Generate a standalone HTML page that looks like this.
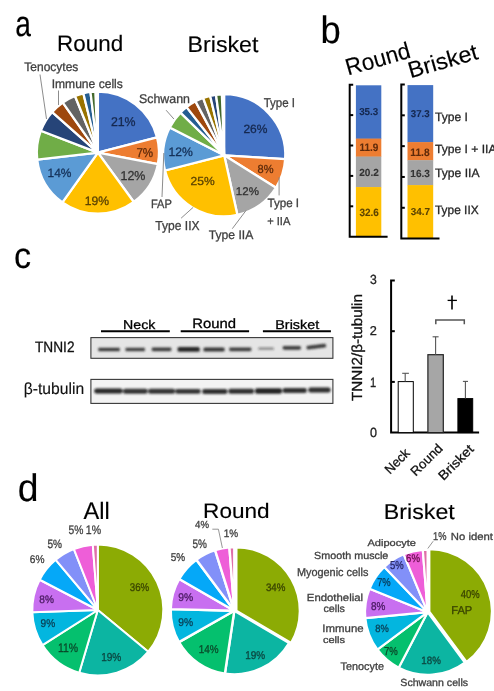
<!DOCTYPE html>
<html><head><meta charset="utf-8"><style>
html,body{margin:0;padding:0;background:#fff;}
svg{display:block;}
text{font-family:"Liberation Sans",sans-serif;text-rendering:geometricPrecision;}
</style></head><body>
<svg width="494" height="691" viewBox="0 0 494 691">
<rect width="494" height="691" fill="#fff"/>
<g style="will-change:transform">
<text x="15.20" y="35.80" font-size="36.28" textLength="15.66" lengthAdjust="spacingAndGlyphs" fill="#000" font-weight="normal" stroke="#000" stroke-width="0.15">a</text>
<text x="320.53" y="42.80" font-size="38.34" textLength="20.27" lengthAdjust="spacingAndGlyphs" fill="#000" font-weight="normal" stroke="#000" stroke-width="0.15">b</text>
<text x="14.05" y="267.90" font-size="36.47" textLength="17.09" lengthAdjust="spacingAndGlyphs" fill="#000" font-weight="normal" stroke="#000" stroke-width="0.15">c</text>
<text x="17.71" y="500.60" font-size="38.48" textLength="20.76" lengthAdjust="spacingAndGlyphs" fill="#000" font-weight="normal" stroke="#000" stroke-width="0.15">d</text>
<text x="57.05" y="50.60" font-size="22.25" textLength="66.09" lengthAdjust="spacingAndGlyphs" fill="#000" font-weight="normal" stroke="#000" stroke-width="0.15">Round</text>
<text x="187.59" y="51.90" font-size="22.40" textLength="70.81" lengthAdjust="spacingAndGlyphs" fill="#000" font-weight="normal" stroke="#000" stroke-width="0.15">Brisket</text>
<path d="M97.90,152.60 L97.90,91.50 A61.10,61.10 0 0 1 157.08,137.41 Z" fill="#4472C4" stroke="#fff" stroke-width="2.3" stroke-linejoin="round"/>
<path d="M97.90,152.60 L157.08,137.41 A61.10,61.10 0 0 1 157.92,164.05 Z" fill="#ED7D31" stroke="#fff" stroke-width="2.3" stroke-linejoin="round"/>
<path d="M97.90,152.60 L157.92,164.05 A61.10,61.10 0 0 1 133.81,202.03 Z" fill="#A5A5A5" stroke="#fff" stroke-width="2.3" stroke-linejoin="round"/>
<path d="M97.90,152.60 L133.81,202.03 A61.10,61.10 0 0 1 62.42,202.34 Z" fill="#FFC000" stroke="#fff" stroke-width="2.3" stroke-linejoin="round"/>
<path d="M97.90,152.60 L62.42,202.34 A61.10,61.10 0 0 1 37.19,159.52 Z" fill="#5B9BD5" stroke="#fff" stroke-width="2.3" stroke-linejoin="round"/>
<path d="M97.90,152.60 L37.19,159.52 A61.10,61.10 0 0 1 40.86,130.70 Z" fill="#70AD47" stroke="#fff" stroke-width="2.3" stroke-linejoin="round"/>
<path d="M97.90,152.60 L40.86,130.70 A61.10,61.10 0 0 1 52.21,112.03 Z" fill="#264478" stroke="#fff" stroke-width="2.3" stroke-linejoin="round"/>
<path d="M97.90,152.60 L52.21,112.03 A61.10,61.10 0 0 1 62.85,102.55 Z" fill="#9E480E" stroke="#fff" stroke-width="2.3" stroke-linejoin="round"/>
<path d="M97.90,152.60 L62.85,102.55 A61.10,61.10 0 0 1 75.01,95.95 Z" fill="#636363" stroke="#fff" stroke-width="2.3" stroke-linejoin="round"/>
<path d="M97.90,152.60 L75.01,95.95 A61.10,61.10 0 0 1 83.33,93.26 Z" fill="#997300" stroke="#fff" stroke-width="2.3" stroke-linejoin="round"/>
<path d="M97.90,152.60 L83.33,93.26 A61.10,61.10 0 0 1 90.45,91.96 Z" fill="#255E91" stroke="#fff" stroke-width="2.3" stroke-linejoin="round"/>
<path d="M97.90,152.60 L90.45,91.96 A61.10,61.10 0 0 1 95.34,91.55 Z" fill="#43682B" stroke="#fff" stroke-width="2.3" stroke-linejoin="round"/>
<path d="M224.20,155.30 L224.20,94.20 A61.10,61.10 0 0 1 285.18,159.14 Z" fill="#4472C4" stroke="#fff" stroke-width="2.3" stroke-linejoin="round"/>
<path d="M224.20,155.30 L285.18,159.14 A61.10,61.10 0 0 1 276.02,187.68 Z" fill="#ED7D31" stroke="#fff" stroke-width="2.3" stroke-linejoin="round"/>
<path d="M224.20,155.30 L276.02,187.68 A61.10,61.10 0 0 1 237.42,214.95 Z" fill="#A5A5A5" stroke="#fff" stroke-width="2.3" stroke-linejoin="round"/>
<path d="M224.20,155.30 L237.42,214.95 A61.10,61.10 0 0 1 165.02,170.49 Z" fill="#FFC000" stroke="#fff" stroke-width="2.3" stroke-linejoin="round"/>
<path d="M224.20,155.30 L165.02,170.49 A61.10,61.10 0 0 1 169.76,127.56 Z" fill="#5B9BD5" stroke="#fff" stroke-width="2.3" stroke-linejoin="round"/>
<path d="M224.20,155.30 L169.76,127.56 A61.10,61.10 0 0 1 180.47,112.63 Z" fill="#70AD47" stroke="#fff" stroke-width="2.3" stroke-linejoin="round"/>
<path d="M224.20,155.30 L180.47,112.63 A61.10,61.10 0 0 1 186.58,107.15 Z" fill="#255E91" stroke="#fff" stroke-width="2.3" stroke-linejoin="round"/>
<path d="M224.20,155.30 L186.58,107.15 A61.10,61.10 0 0 1 195.52,101.35 Z" fill="#9E480E" stroke="#fff" stroke-width="2.3" stroke-linejoin="round"/>
<path d="M224.20,155.30 L195.52,101.35 A61.10,61.10 0 0 1 203.10,97.96 Z" fill="#636363" stroke="#fff" stroke-width="2.3" stroke-linejoin="round"/>
<path d="M224.20,155.30 L203.10,97.96 A61.10,61.10 0 0 1 210.14,95.84 Z" fill="#997300" stroke="#fff" stroke-width="2.3" stroke-linejoin="round"/>
<path d="M224.20,155.30 L210.14,95.84 A61.10,61.10 0 0 1 216.01,94.75 Z" fill="#264478" stroke="#fff" stroke-width="2.3" stroke-linejoin="round"/>
<path d="M224.20,155.30 L216.01,94.75 A61.10,61.10 0 0 1 221.85,94.25 Z" fill="#43682B" stroke="#fff" stroke-width="2.3" stroke-linejoin="round"/>
<line x1="40" y1="74.5" x2="46.5" y2="119" stroke="#7f7f7f" stroke-width="0.9"/>
<line x1="58.5" y1="90.5" x2="58.5" y2="105" stroke="#7f7f7f" stroke-width="0.9"/>
<line x1="166.1" y1="110.2" x2="173.9" y2="119" stroke="#7f7f7f" stroke-width="0.9"/>
<line x1="163.8" y1="153" x2="162" y2="197" stroke="#7f7f7f" stroke-width="0.9"/>
<line x1="181.1" y1="218.2" x2="193.2" y2="207.3" stroke="#7f7f7f" stroke-width="0.9"/>
<line x1="232.3" y1="228.7" x2="246" y2="210.5" stroke="#7f7f7f" stroke-width="0.9"/>
<line x1="279.1" y1="177.2" x2="279.1" y2="195.4" stroke="#7f7f7f" stroke-width="0.9"/>
<text x="24.33" y="71.40" font-size="12.44" textLength="53.99" lengthAdjust="spacingAndGlyphs" fill="#404040" font-weight="normal" stroke="#404040" stroke-width="0.3">Tenocytes</text>
<text x="51.68" y="87.80" font-size="12.44" textLength="71.15" lengthAdjust="spacingAndGlyphs" fill="#404040" font-weight="normal" stroke="#404040" stroke-width="0.3">Immune cells</text>
<text x="139.04" y="102.70" font-size="12.69" textLength="50.95" lengthAdjust="spacingAndGlyphs" fill="#404040" font-weight="normal" stroke="#404040" stroke-width="0.3">Schwann</text>
<text x="263.64" y="106.60" font-size="12.73" textLength="31.44" lengthAdjust="spacingAndGlyphs" fill="#404040" font-weight="normal" stroke="#404040" stroke-width="0.3">Type I</text>
<text x="150.89" y="207.90" font-size="12.29" textLength="20.89" lengthAdjust="spacingAndGlyphs" fill="#404040" font-weight="normal" stroke="#404040" stroke-width="0.3">FAP</text>
<text x="155.33" y="229.60" font-size="13.02" textLength="44.23" lengthAdjust="spacingAndGlyphs" fill="#404040" font-weight="normal" stroke="#404040" stroke-width="0.3">Type IIX</text>
<text x="208.73" y="238.70" font-size="12.44" textLength="44.59" lengthAdjust="spacingAndGlyphs" fill="#404040" font-weight="normal" stroke="#404040" stroke-width="0.3">Type IIA</text>
<text x="267.44" y="207.40" font-size="12.00" textLength="31.65" lengthAdjust="spacingAndGlyphs" fill="#404040" font-weight="normal" stroke="#404040" stroke-width="0.3">Type I</text>
<text x="267.17" y="224.80" font-size="11.56" textLength="23.25" lengthAdjust="spacingAndGlyphs" fill="#404040" font-weight="normal" stroke="#404040" stroke-width="0.3">+ IIA</text>
<text x="110.88" y="125.60" font-size="12.69" textLength="24.74" lengthAdjust="spacingAndGlyphs" fill="#15284F" font-weight="normal" stroke="#15284F" stroke-width="0.3">21%</text>
<text x="136.42" y="157.20" font-size="12.87" textLength="16.79" lengthAdjust="spacingAndGlyphs" fill="#5E2A0A" font-weight="normal" stroke="#5E2A0A" stroke-width="0.3">7%</text>
<text x="120.46" y="180.40" font-size="12.87" textLength="24.96" lengthAdjust="spacingAndGlyphs" fill="#333333" font-weight="normal" stroke="#333333" stroke-width="0.3">12%</text>
<text x="84.79" y="204.70" font-size="12.29" textLength="24.32" lengthAdjust="spacingAndGlyphs" fill="#5C4300" font-weight="normal" stroke="#5C4300" stroke-width="0.3">19%</text>
<text x="47.60" y="177.40" font-size="12.15" textLength="23.90" lengthAdjust="spacingAndGlyphs" fill="#15325A" font-weight="normal" stroke="#15325A" stroke-width="0.3">14%</text>
<text x="243.40" y="132.60" font-size="11.97" textLength="24.01" lengthAdjust="spacingAndGlyphs" fill="#15284F" font-weight="normal" stroke="#15284F" stroke-width="0.3">26%</text>
<text x="257.53" y="173.20" font-size="11.68" textLength="15.96" lengthAdjust="spacingAndGlyphs" fill="#5E2A0A" font-weight="normal" stroke="#5E2A0A" stroke-width="0.3">8%</text>
<text x="235.84" y="194.50" font-size="11.13" textLength="23.06" lengthAdjust="spacingAndGlyphs" fill="#333333" font-weight="normal" stroke="#333333" stroke-width="0.3">12%</text>
<text x="190.60" y="185.30" font-size="11.68" textLength="24.11" lengthAdjust="spacingAndGlyphs" fill="#5C4300" font-weight="normal" stroke="#5C4300" stroke-width="0.3">25%</text>
<text x="168.49" y="155.70" font-size="12.29" textLength="24.32" lengthAdjust="spacingAndGlyphs" fill="#15325A" font-weight="normal" stroke="#15325A" stroke-width="0.3">12%</text>
<text x="347.94" y="75.10" font-size="23.27" textLength="66.30" lengthAdjust="spacingAndGlyphs" fill="#000" font-weight="normal" stroke="#000" stroke-width="0.15" transform="rotate(-16 349.8 75.1)">Round</text>
<text x="410.37" y="77.80" font-size="22.69" textLength="71.64" lengthAdjust="spacingAndGlyphs" fill="#000" font-weight="normal" stroke="#000" stroke-width="0.15" transform="rotate(-16 412.3 77.8)">Brisket</text>
<rect x="355.90" y="85.30" width="25.40" height="53.60" fill="#4472C4" stroke="none" stroke-width="0"/>
<rect x="355.90" y="138.60" width="25.40" height="18.27" fill="#ED7D31" stroke="none" stroke-width="0"/>
<rect x="355.90" y="156.57" width="25.40" height="30.80" fill="#A5A5A5" stroke="none" stroke-width="0"/>
<rect x="355.90" y="187.07" width="25.40" height="49.53" fill="#FFC000" stroke="none" stroke-width="0"/>
<rect x="407.50" y="85.10" width="25.70" height="57.33" fill="#4472C4" stroke="none" stroke-width="0"/>
<rect x="407.50" y="142.13" width="25.70" height="18.34" fill="#ED7D31" stroke="none" stroke-width="0"/>
<rect x="407.50" y="160.17" width="25.70" height="25.22" fill="#A5A5A5" stroke="none" stroke-width="0"/>
<rect x="407.50" y="185.10" width="25.70" height="53.20" fill="#FFC000" stroke="none" stroke-width="0"/>
<path d="M353.2,84.7 H349.7 V236.7 H387.6" fill="none" stroke="#000" stroke-width="2"/>
<line x1="349.7" y1="115.10" x2="353.2" y2="115.10" stroke="#000" stroke-width="2"/>
<line x1="349.7" y1="145.50" x2="353.2" y2="145.50" stroke="#000" stroke-width="2"/>
<line x1="349.7" y1="175.90" x2="353.2" y2="175.90" stroke="#000" stroke-width="2"/>
<line x1="349.7" y1="206.30" x2="353.2" y2="206.30" stroke="#000" stroke-width="2"/>
<path d="M404.8,84.5 H401.3 V238.6 H439.5" fill="none" stroke="#000" stroke-width="2"/>
<line x1="401.3" y1="115.32" x2="404.8" y2="115.32" stroke="#000" stroke-width="2"/>
<line x1="401.3" y1="146.14" x2="404.8" y2="146.14" stroke="#000" stroke-width="2"/>
<line x1="401.3" y1="176.96" x2="404.8" y2="176.96" stroke="#000" stroke-width="2"/>
<line x1="401.3" y1="207.78" x2="404.8" y2="207.78" stroke="#000" stroke-width="2"/>
<text x="359.18" y="115.30" font-size="10.11" textLength="19.08" lengthAdjust="spacingAndGlyphs" fill="#15284F" font-weight="bold" stroke="#15284F" stroke-width="0.1">35.3</text>
<text x="359.38" y="151.10" font-size="10.84" textLength="18.89" lengthAdjust="spacingAndGlyphs" fill="#5E2A0A" font-weight="bold" stroke="#5E2A0A" stroke-width="0.1">11.9</text>
<text x="359.25" y="176.00" font-size="10.25" textLength="19.54" lengthAdjust="spacingAndGlyphs" fill="#333333" font-weight="bold" stroke="#333333" stroke-width="0.1">20.2</text>
<text x="359.38" y="216.20" font-size="10.54" textLength="19.39" lengthAdjust="spacingAndGlyphs" fill="#5C4300" font-weight="bold" stroke="#5C4300" stroke-width="0.1">32.6</text>
<text x="410.78" y="116.80" font-size="9.96" textLength="18.87" lengthAdjust="spacingAndGlyphs" fill="#15284F" font-weight="bold" stroke="#15284F" stroke-width="0.1">37.3</text>
<text x="410.36" y="155.50" font-size="10.84" textLength="19.25" lengthAdjust="spacingAndGlyphs" fill="#5E2A0A" font-weight="bold" stroke="#5E2A0A" stroke-width="0.1">11.8</text>
<text x="410.37" y="176.70" font-size="10.25" textLength="19.60" lengthAdjust="spacingAndGlyphs" fill="#333333" font-weight="bold" stroke="#333333" stroke-width="0.1">16.3</text>
<text x="410.78" y="215.00" font-size="10.11" textLength="19.26" lengthAdjust="spacingAndGlyphs" fill="#5C4300" font-weight="bold" stroke="#5C4300" stroke-width="0.1">34.7</text>
<text x="435.03" y="121.30" font-size="12.15" textLength="32.90" lengthAdjust="spacingAndGlyphs" fill="#262626" font-weight="normal" stroke="#262626" stroke-width="0.3">Type I</text>
<text x="435.03" y="153.30" font-size="11.85" textLength="61.49" lengthAdjust="spacingAndGlyphs" fill="#262626" font-weight="normal" stroke="#262626" stroke-width="0.3">Type I + IIA</text>
<text x="435.03" y="177.10" font-size="12.15" textLength="44.49" lengthAdjust="spacingAndGlyphs" fill="#262626" font-weight="normal" stroke="#262626" stroke-width="0.3">Type IIA</text>
<text x="435.03" y="213.50" font-size="12.15" textLength="43.62" lengthAdjust="spacingAndGlyphs" fill="#262626" font-weight="normal" stroke="#262626" stroke-width="0.3">Type IIX</text>
<text x="123.13" y="328.50" font-size="12.73" textLength="32.28" lengthAdjust="spacingAndGlyphs" fill="#000" font-weight="normal" stroke="#000" stroke-width="0.3">Neck</text>
<text x="192.17" y="328.40" font-size="13.45" textLength="43.78" lengthAdjust="spacingAndGlyphs" fill="#000" font-weight="normal" stroke="#000" stroke-width="0.3">Round</text>
<text x="275.32" y="329.10" font-size="12.87" textLength="43.81" lengthAdjust="spacingAndGlyphs" fill="#000" font-weight="normal" stroke="#000" stroke-width="0.3">Brisket</text>
<line x1="101" y1="331.2" x2="169.8" y2="331.2" stroke="#000" stroke-width="2"/>
<line x1="180.7" y1="331.2" x2="249.1" y2="331.2" stroke="#000" stroke-width="2"/>
<line x1="262.9" y1="331.2" x2="330.9" y2="331.2" stroke="#000" stroke-width="2"/>
<text x="34.99" y="352.30" font-size="15.05" textLength="39.52" lengthAdjust="spacingAndGlyphs" fill="#111" font-weight="normal" stroke="#111" stroke-width="0.3">TNNI2</text>
<text x="23.80" y="394.00" font-size="16.21" textLength="60.38" lengthAdjust="spacingAndGlyphs" fill="#111" font-weight="normal" stroke="#111" stroke-width="0.15">β-tubulin</text>
<defs><filter id="bl" x="-20%" y="-150%" width="140%" height="400%"><feGaussianBlur stdDeviation="1.2 0.9"/></filter><filter id="bl2" x="-20%" y="-150%" width="140%" height="400%"><feGaussianBlur stdDeviation="1.3 1.2"/></filter></defs>
<rect x="90.9" y="337.6" width="242.0" height="20.7" fill="#e5e5e5" stroke="#383838" stroke-width="1.1"/>
<rect x="90.9" y="379.4" width="242.0" height="24.0" fill="#f3f3f3" stroke="#383838" stroke-width="1.1"/>
<g filter="url(#bl)">
<rect x="98.20" y="347.75" width="21.70" height="3.50" rx="1.35" fill="#262626" opacity="0.88"/>
<rect x="125.40" y="347.85" width="19.60" height="3.30" rx="1.27" fill="#262626" opacity="0.85"/>
<rect x="151.70" y="347.45" width="19.70" height="3.70" rx="1.42" fill="#262626" opacity="0.88"/>
<rect x="177.50" y="347.00" width="22.30" height="4.80" rx="1.85" fill="#262626" opacity="1.0"/>
<rect x="203.40" y="347.55" width="21.30" height="3.90" rx="1.50" fill="#262626" opacity="0.92"/>
<rect x="229.20" y="347.45" width="22.20" height="3.70" rx="1.42" fill="#262626" opacity="0.88"/>
<rect x="258.30" y="347.60" width="15.60" height="2.20" rx="0.85" fill="#262626" opacity="0.5"/>
<rect x="282.70" y="346.10" width="18.20" height="3.60" rx="1.38" fill="#262626" opacity="0.88"/>
<path d="M308.2,347.6 L324.4,345.6" stroke="#262626" stroke-width="3.6" stroke-linecap="round" fill="none" opacity="0.88"/>
</g>
<g filter="url(#bl2)">
<rect x="94.30" y="388.40" width="28.30" height="5.20" rx="2.08" fill="#1c1c1c" opacity="0.95"/>
<rect x="123.10" y="388.70" width="24.50" height="5.00" rx="2.00" fill="#1c1c1c" opacity="0.9"/>
<rect x="148.20" y="388.70" width="26.80" height="5.00" rx="2.00" fill="#1c1c1c" opacity="0.9"/>
<rect x="175.30" y="388.90" width="25.30" height="4.80" rx="1.92" fill="#1c1c1c" opacity="0.9"/>
<rect x="202.20" y="388.90" width="25.20" height="5.00" rx="2.00" fill="#1c1c1c" opacity="0.92"/>
<rect x="228.40" y="388.70" width="25.60" height="5.00" rx="2.00" fill="#1c1c1c" opacity="0.92"/>
<rect x="255.00" y="388.20" width="27.00" height="5.60" rx="2.24" fill="#1c1c1c" opacity="0.97"/>
<rect x="282.60" y="388.10" width="24.20" height="5.00" rx="2.00" fill="#1c1c1c" opacity="0.92"/>
<rect x="308.40" y="387.60" width="22.10" height="5.00" rx="2.00" fill="#1c1c1c" opacity="0.92"/>
</g>
<path d="M394.8,280.4 H391.1 V432.6 H479.1" fill="none" stroke="#000" stroke-width="2"/>
<line x1="391.1" y1="331.2" x2="394.8" y2="331.2" stroke="#000" stroke-width="2"/>
<line x1="391.1" y1="381.9" x2="394.8" y2="381.9" stroke="#000" stroke-width="2"/>
<text x="369.94" y="284.40" font-size="13.26" textLength="6.79" lengthAdjust="spacingAndGlyphs" fill="#222" font-weight="normal" stroke="#222" stroke-width="0.3">3</text>
<text x="369.76" y="335.10" font-size="12.83" textLength="7.09" lengthAdjust="spacingAndGlyphs" fill="#222" font-weight="normal" stroke="#222" stroke-width="0.3">2</text>
<text x="369.97" y="386.50" font-size="13.45" textLength="6.17" lengthAdjust="spacingAndGlyphs" fill="#222" font-weight="normal" stroke="#222" stroke-width="0.3">1</text>
<text x="369.90" y="436.50" font-size="13.26" textLength="6.99" lengthAdjust="spacingAndGlyphs" fill="#222" font-weight="normal" stroke="#222" stroke-width="0.3">0</text>
<rect x="398.2" y="381.6" width="15.1" height="51" fill="#fff" stroke="#000" stroke-width="1"/>
<rect x="427.9" y="354.7" width="15.4" height="77.9" fill="#a6a6a6" stroke="#222" stroke-width="1.2"/>
<rect x="457.9" y="398.6" width="14.8" height="34" fill="#000" stroke="#000" stroke-width="1"/>
<line x1="405.2" y1="381.6" x2="405.2" y2="373.3" stroke="#555" stroke-width="1.1"/>
<line x1="402.2" y1="373.3" x2="408.9" y2="373.3" stroke="#555" stroke-width="1.1"/>
<line x1="435.6" y1="354.7" x2="435.6" y2="336.8" stroke="#555" stroke-width="1.1"/>
<line x1="432.6" y1="336.8" x2="438.6" y2="336.8" stroke="#555" stroke-width="1.1"/>
<line x1="465.4" y1="398.6" x2="465.4" y2="381.4" stroke="#555" stroke-width="1.1"/>
<line x1="462.9" y1="381.4" x2="468" y2="381.4" stroke="#555" stroke-width="1.1"/>
<path d="M435.8,324.3 V320 H464.3 V324.3" fill="none" stroke="#555" stroke-width="1.5"/>
<path d="M452,295.6 L452,309.5" stroke="#000" stroke-width="1.6"/><path d="M447.6,300.4 H456.9" stroke="#000" stroke-width="1.3"/>
<text x="361.96" y="400.70" font-size="14.62" textLength="107.03" lengthAdjust="spacingAndGlyphs" fill="#111" font-weight="normal" stroke="#111" stroke-width="0.3" transform="rotate(-90 362.3 400.7)">TNNI2/β-tubulin</text>
<text x="389.75" y="473.90" font-size="13.09" textLength="29.06" lengthAdjust="spacingAndGlyphs" fill="#111" font-weight="normal" stroke="#111" stroke-width="0.3" transform="rotate(-45 390.8010101267767 473.89898987322334)">Neck</text>
<text x="415.55" y="475.96" font-size="13.09" textLength="38.94" lengthAdjust="spacingAndGlyphs" fill="#111" font-weight="normal" stroke="#111" stroke-width="0.3" transform="rotate(-45 416.63704909609777 475.96295090390225)">Round</text>
<text x="443.17" y="480.15" font-size="13.09" textLength="43.81" lengthAdjust="spacingAndGlyphs" fill="#111" font-weight="normal" stroke="#111" stroke-width="0.3" transform="rotate(-45 444.3479617995717 480.1520382004283)">Brisket</text>
<text x="83.54" y="519.30" font-size="23.85" textLength="26.23" lengthAdjust="spacingAndGlyphs" fill="#000" font-weight="normal" stroke="#000" stroke-width="0.15">All</text>
<text x="203.14" y="517.70" font-size="20.80" textLength="66.52" lengthAdjust="spacingAndGlyphs" fill="#000" font-weight="normal" stroke="#000" stroke-width="0.15">Round</text>
<text x="383.89" y="518.90" font-size="21.53" textLength="70.92" lengthAdjust="spacingAndGlyphs" fill="#000" font-weight="normal" stroke="#000" stroke-width="0.15">Brisket</text>
<path d="M97.80,610.00 L97.80,544.50 A65.50,65.50 0 0 1 148.27,651.75 Z" fill="#8CAB04" stroke="#fff" stroke-width="2.0" stroke-linejoin="round"/>
<path d="M97.80,610.00 L148.27,651.75 A65.50,65.50 0 0 1 79.20,672.80 Z" fill="#0CB5A2" stroke="#fff" stroke-width="2.0" stroke-linejoin="round"/>
<path d="M97.80,610.00 L79.20,672.80 A65.50,65.50 0 0 1 42.50,645.10 Z" fill="#05C06E" stroke="#fff" stroke-width="2.0" stroke-linejoin="round"/>
<path d="M97.80,610.00 L42.50,645.10 A65.50,65.50 0 0 1 32.34,612.29 Z" fill="#03B6DF" stroke="#fff" stroke-width="2.0" stroke-linejoin="round"/>
<path d="M97.80,610.00 L32.34,612.29 A65.50,65.50 0 0 1 39.70,579.76 Z" fill="#C86FF0" stroke="#fff" stroke-width="2.0" stroke-linejoin="round"/>
<path d="M97.80,610.00 L39.70,579.76 A65.50,65.50 0 0 1 55.70,559.82 Z" fill="#05A8F8" stroke="#fff" stroke-width="2.0" stroke-linejoin="round"/>
<path d="M97.80,610.00 L55.70,559.82 A65.50,65.50 0 0 1 73.90,549.02 Z" fill="#8290F8" stroke="#fff" stroke-width="2.0" stroke-linejoin="round"/>
<path d="M97.80,610.00 L73.90,549.02 A65.50,65.50 0 0 1 92.77,544.69 Z" fill="#EE5ED8" stroke="#fff" stroke-width="2.0" stroke-linejoin="round"/>
<path d="M97.80,610.00 L92.77,544.69 A65.50,65.50 0 0 1 97.80,544.50 Z" fill="#E06FA8" stroke="#fff" stroke-width="2.0" stroke-linejoin="round"/>
<path d="M236.30,610.80 L236.30,547.20 A63.60,63.60 0 0 1 291.10,643.08 Z" fill="#8CAB04" stroke="#fff" stroke-width="2.4" stroke-linejoin="round"/>
<path d="M234.30,610.80 L289.10,643.08 A63.60,63.60 0 0 1 224.90,673.70 Z" fill="#0CB5A2" stroke="#fff" stroke-width="2.4" stroke-linejoin="round"/>
<path d="M234.30,610.80 L224.90,673.70 A63.60,63.60 0 0 1 178.95,642.12 Z" fill="#05C06E" stroke="#fff" stroke-width="2.4" stroke-linejoin="round"/>
<path d="M234.30,610.80 L178.95,642.12 A63.60,63.60 0 0 1 170.72,609.14 Z" fill="#03B6DF" stroke="#fff" stroke-width="2.4" stroke-linejoin="round"/>
<path d="M234.30,610.80 L170.72,609.14 A63.60,63.60 0 0 1 179.22,579.00 Z" fill="#C86FF0" stroke="#fff" stroke-width="2.4" stroke-linejoin="round"/>
<path d="M234.30,610.80 L179.22,579.00 A63.60,63.60 0 0 1 196.38,559.74 Z" fill="#05A8F8" stroke="#fff" stroke-width="2.4" stroke-linejoin="round"/>
<path d="M234.30,610.80 L196.38,559.74 A63.60,63.60 0 0 1 215.07,550.18 Z" fill="#8290F8" stroke="#fff" stroke-width="2.4" stroke-linejoin="round"/>
<path d="M234.30,610.80 L215.07,550.18 A63.60,63.60 0 0 1 229.42,547.39 Z" fill="#EE5ED8" stroke="#fff" stroke-width="2.4" stroke-linejoin="round"/>
<path d="M234.30,610.80 L229.42,547.39 A63.60,63.60 0 0 1 234.30,547.20 Z" fill="#E06FA8" stroke="#fff" stroke-width="2.4" stroke-linejoin="round"/>
<path d="M429.31,611.64 L429.31,549.04 A62.60,62.60 0 0 1 466.55,661.96 Z" fill="#8CAB04" stroke="#fff" stroke-width="2.2" stroke-linejoin="round"/>
<path d="M427.60,612.20 L464.84,662.52 A62.60,62.60 0 0 1 398.69,667.73 Z" fill="#0CB5A2" stroke="#fff" stroke-width="2.2" stroke-linejoin="round"/>
<path d="M427.60,612.20 L398.69,667.73 A62.60,62.60 0 0 1 377.34,649.52 Z" fill="#05C06E" stroke="#fff" stroke-width="2.2" stroke-linejoin="round"/>
<path d="M427.60,612.20 L377.34,649.52 A62.60,62.60 0 0 1 365.29,618.20 Z" fill="#03B6DF" stroke="#fff" stroke-width="2.2" stroke-linejoin="round"/>
<path d="M427.60,612.20 L365.29,618.20 A62.60,62.60 0 0 1 369.56,588.75 Z" fill="#C86FF0" stroke="#fff" stroke-width="2.2" stroke-linejoin="round"/>
<path d="M427.60,612.20 L369.56,588.75 A62.60,62.60 0 0 1 384.35,566.94 Z" fill="#05A8F8" stroke="#fff" stroke-width="2.2" stroke-linejoin="round"/>
<path d="M427.60,612.20 L384.35,566.94 A62.60,62.60 0 0 1 403.74,554.32 Z" fill="#8290F8" stroke="#fff" stroke-width="2.2" stroke-linejoin="round"/>
<path d="M427.60,612.20 L403.74,554.32 A62.60,62.60 0 0 1 422.80,549.78 Z" fill="#EE5ED8" stroke="#fff" stroke-width="2.2" stroke-linejoin="round"/>
<path d="M427.60,612.20 L422.80,549.78 A62.60,62.60 0 0 1 427.60,549.60 Z" fill="#E06FA8" stroke="#fff" stroke-width="2.2" stroke-linejoin="round"/>
<text x="129.73" y="590.70" font-size="11.25" textLength="19.50" lengthAdjust="spacingAndGlyphs" fill="#3A4400" font-weight="normal" stroke="#3A4400" stroke-width="0.3">36%</text>
<text x="101.14" y="661.20" font-size="11.56" textLength="20.20" lengthAdjust="spacingAndGlyphs" fill="#0B4640" font-weight="normal" stroke="#0B4640" stroke-width="0.3">19%</text>
<text x="58.02" y="651.50" font-size="12.44" textLength="20.15" lengthAdjust="spacingAndGlyphs" fill="#0A4A2A" font-weight="normal" stroke="#0A4A2A" stroke-width="0.3">11%</text>
<text x="40.62" y="627.40" font-size="11.25" textLength="14.64" lengthAdjust="spacingAndGlyphs" fill="#0A3F55" font-weight="normal" stroke="#0A3F55" stroke-width="0.3">9%</text>
<text x="39.27" y="603.00" font-size="10.82" textLength="14.59" lengthAdjust="spacingAndGlyphs" fill="#4A1A62" font-weight="normal" stroke="#4A1A62" stroke-width="0.3">8%</text>
<text x="29.79" y="563.40" font-size="11.25" textLength="14.67" lengthAdjust="spacingAndGlyphs" fill="#404040" font-weight="normal" stroke="#404040" stroke-width="0.3">6%</text>
<text x="47.50" y="547.90" font-size="12.00" textLength="14.56" lengthAdjust="spacingAndGlyphs" fill="#404040" font-weight="normal" stroke="#404040" stroke-width="0.3">5%</text>
<text x="68.59" y="534.10" font-size="12.44" textLength="14.88" lengthAdjust="spacingAndGlyphs" fill="#404040" font-weight="normal" stroke="#404040" stroke-width="0.3">5%</text>
<text x="85.81" y="534.10" font-size="12.44" textLength="15.27" lengthAdjust="spacingAndGlyphs" fill="#404040" font-weight="normal" stroke="#404040" stroke-width="0.3">1%</text>
<text x="265.93" y="591.10" font-size="10.82" textLength="19.50" lengthAdjust="spacingAndGlyphs" fill="#3A4400" font-weight="normal" stroke="#3A4400" stroke-width="0.3">34%</text>
<text x="245.15" y="658.50" font-size="11.27" textLength="19.99" lengthAdjust="spacingAndGlyphs" fill="#0B4640" font-weight="normal" stroke="#0B4640" stroke-width="0.3">19%</text>
<text x="198.75" y="653.00" font-size="11.27" textLength="19.88" lengthAdjust="spacingAndGlyphs" fill="#0A4A2A" font-weight="normal" stroke="#0A4A2A" stroke-width="0.3">14%</text>
<text x="178.31" y="625.70" font-size="11.25" textLength="14.85" lengthAdjust="spacingAndGlyphs" fill="#0A3F55" font-weight="normal" stroke="#0A3F55" stroke-width="0.3">9%</text>
<text x="178.31" y="600.50" font-size="11.11" textLength="14.85" lengthAdjust="spacingAndGlyphs" fill="#4A1A62" font-weight="normal" stroke="#4A1A62" stroke-width="0.3">9%</text>
<text x="170.80" y="560.50" font-size="11.42" textLength="14.45" lengthAdjust="spacingAndGlyphs" fill="#404040" font-weight="normal" stroke="#404040" stroke-width="0.3">5%</text>
<text x="192.50" y="547.60" font-size="12.29" textLength="14.45" lengthAdjust="spacingAndGlyphs" fill="#404040" font-weight="normal" stroke="#404040" stroke-width="0.3">5%</text>
<text x="195.08" y="528.40" font-size="10.25" textLength="13.96" lengthAdjust="spacingAndGlyphs" fill="#404040" font-weight="normal" stroke="#404040" stroke-width="0.3">4%</text>
<text x="223.75" y="536.60" font-size="10.98" textLength="14.40" lengthAdjust="spacingAndGlyphs" fill="#404040" font-weight="normal" stroke="#404040" stroke-width="0.3">1%</text>
<polyline points="212.3,529.2 218.4,529.2 222.4,548" fill="none" stroke="#8a8a8a" stroke-width="0.9"/>
<text x="460.69" y="597.80" font-size="11.42" textLength="18.93" lengthAdjust="spacingAndGlyphs" fill="#3A4400" font-weight="normal" stroke="#3A4400" stroke-width="0.3">40%</text>
<text x="451.28" y="613.60" font-size="11.27" textLength="21.00" lengthAdjust="spacingAndGlyphs" fill="#3A4400" font-weight="normal" stroke="#3A4400" stroke-width="0.3">FAP</text>
<text x="421.27" y="664.20" font-size="10.69" textLength="19.57" lengthAdjust="spacingAndGlyphs" fill="#0B4640" font-weight="normal" stroke="#0B4640" stroke-width="0.3">18%</text>
<text x="383.92" y="654.80" font-size="11.56" textLength="13.82" lengthAdjust="spacingAndGlyphs" fill="#0A4A2A" font-weight="normal" stroke="#0A4A2A" stroke-width="0.3">7%</text>
<text x="375.30" y="632.00" font-size="10.54" textLength="13.53" lengthAdjust="spacingAndGlyphs" fill="#0A3F55" font-weight="normal" stroke="#0A3F55" stroke-width="0.3">8%</text>
<text x="370.98" y="609.50" font-size="11.40" textLength="14.37" lengthAdjust="spacingAndGlyphs" fill="#4A1A62" font-weight="normal" stroke="#4A1A62" stroke-width="0.3">8%</text>
<text x="377.13" y="586.40" font-size="11.42" textLength="13.60" lengthAdjust="spacingAndGlyphs" fill="#083F60" font-weight="normal" stroke="#083F60" stroke-width="0.3">7%</text>
<text x="390.02" y="568.80" font-size="11.56" textLength="13.72" lengthAdjust="spacingAndGlyphs" fill="#2A2A6A" font-weight="normal" stroke="#2A2A6A" stroke-width="0.3">5%</text>
<text x="406.12" y="562.00" font-size="11.25" textLength="13.92" lengthAdjust="spacingAndGlyphs" fill="#6A1050" font-weight="normal" stroke="#6A1050" stroke-width="0.3">6%</text>
<text x="433.10" y="540.30" font-size="11.42" textLength="13.42" lengthAdjust="spacingAndGlyphs" fill="#404040" font-weight="normal" stroke="#404040" stroke-width="0.3">1%</text>
<text x="450.76" y="540.30" font-size="10.25" textLength="42.22" lengthAdjust="spacingAndGlyphs" fill="#404040" font-weight="normal" stroke="#404040" stroke-width="0.3">No ident</text>
<line x1="433.2" y1="541.2" x2="427.8" y2="548.5" stroke="#8a8a8a" stroke-width="0.9"/>
<text x="367.47" y="545.90" font-size="9.38" textLength="48.42" lengthAdjust="spacingAndGlyphs" fill="#404040" font-weight="normal" stroke="#404040" stroke-width="0.3">Adipocyte</text>
<text x="314.12" y="558.70" font-size="10.25" textLength="74.26" lengthAdjust="spacingAndGlyphs" fill="#404040" font-weight="normal" stroke="#404040" stroke-width="0.3">Smooth muscle</text>
<text x="296.90" y="576.00" font-size="11.42" textLength="71.49" lengthAdjust="spacingAndGlyphs" fill="#404040" font-weight="normal" stroke="#404040" stroke-width="0.3">Myogenic cells</text>
<text x="306.86" y="600.90" font-size="10.25" textLength="56.19" lengthAdjust="spacingAndGlyphs" fill="#404040" font-weight="normal" stroke="#404040" stroke-width="0.3">Endothelial</text>
<text x="323.44" y="612.30" font-size="10.28" textLength="21.54" lengthAdjust="spacingAndGlyphs" fill="#404040" font-weight="normal" stroke="#404040" stroke-width="0.3">cells</text>
<text x="322.34" y="631.80" font-size="10.84" textLength="41.27" lengthAdjust="spacingAndGlyphs" fill="#404040" font-weight="normal" stroke="#404040" stroke-width="0.3">Immune</text>
<text x="322.93" y="642.90" font-size="9.45" textLength="22.06" lengthAdjust="spacingAndGlyphs" fill="#404040" font-weight="normal" stroke="#404040" stroke-width="0.3">cells</text>
<text x="340.56" y="669.60" font-size="10.98" textLength="43.41" lengthAdjust="spacingAndGlyphs" fill="#404040" font-weight="normal" stroke="#404040" stroke-width="0.3">Tenocyte</text>
<text x="400.32" y="685.70" font-size="10.39" textLength="67.75" lengthAdjust="spacingAndGlyphs" fill="#404040" font-weight="normal" stroke="#404040" stroke-width="0.3">Schwann cells</text>
</g>
</svg>
</body></html>
